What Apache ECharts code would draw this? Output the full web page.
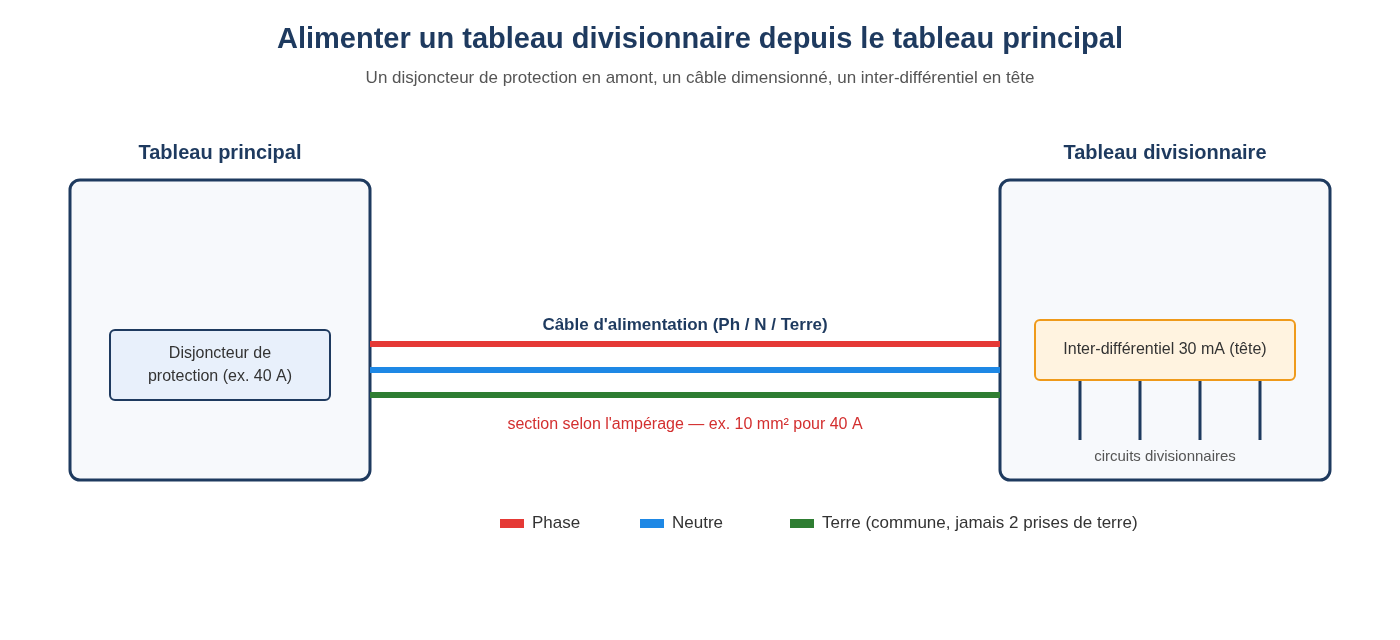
<!DOCTYPE html>
<html><head><meta charset="utf-8">
<script src="https://cdn.jsdelivr.net/npm/echarts@6/dist/echarts.min.js"></script>
<style>html,body{margin:0;background:#fff}#c{width:1400px;height:640px}</style>
</head><body><div id="c"></div>
<script>
const titleText = "Alimenter un tableau divisionnaire depuis le tableau principal";
const subtitleText = "Un disjoncteur de protection en amont, un câble dimensionné, un inter-différentiel en tête";
// panels: [x1,y1,x2,y2,label]
const panels = [[70,180,370,480,"Tableau principal"],[1000,180,1330,480,"Tableau divisionnaire"]];
const devices = [[110,330,330,400,"Disjoncteur de\nprotection (ex. 40 A)","#e8f0fb","#1e3a5f"],[1035,320,1295,380,"Inter-différentiel 30 mA (tête)","#fff3e0","#ef9a1a"]];
const wires = [[370,344,1000,"#e53935"],[370,370,1000,"#1e88e5"],[370,395,1000,"#2e7d32"]];
const circuits = [1080,1140,1200,1260];
const legendItems = [[500,"Phase","#e53935"],[640,"Neutre","#1e88e5"],[790,"Terre (commune, jamais 2 prises de terre)","#2e7d32"]];
const navy = "#1e3a5f";
const chart = echarts.init(document.getElementById('c'));
function R(api,x,y){return api.coord([x,y]);}
chart.setOption({
  animation:false,
  title:{text:titleText,subtext:subtitleText,left:'center',top:20,itemGap:16,
    textStyle:{fontFamily:'Liberation Sans',fontSize:29,fontWeight:'bold',color:navy},
    subtextStyle:{fontFamily:'Liberation Sans',fontSize:17,color:'#555'}},
  grid:{left:0,right:0,top:0,bottom:0},
  xAxis:{type:'value',min:0,max:1400,show:false},
  yAxis:{type:'value',min:0,max:640,inverse:true,show:false},
  series:[
    {type:'custom',data:panels,renderItem:(p,api)=>{const d=panels[p.dataIndex];const a=R(api,d[0],d[1]),b=R(api,d[2],d[3]);
      return {type:'group',children:[
        {type:'rect',shape:{x:a[0],y:a[1],width:b[0]-a[0],height:b[1]-a[1],r:10},style:{fill:'#f7f9fc',stroke:navy,lineWidth:3}},
        {type:'text',style:{x:(a[0]+b[0])/2,y:a[1]-27,text:d[4],align:'center',verticalAlign:'middle',font:'bold 20px Liberation Sans',fill:navy}}]};}},
    {type:'custom',data:wires,renderItem:(p,api)=>{const d=wires[p.dataIndex];const a=R(api,d[0],d[1]),b=R(api,d[2],d[1]);
      return {type:'line',shape:{x1:a[0],y1:a[1],x2:b[0],y2:b[1]},style:{stroke:d[3],lineWidth:6}};}},
    {type:'custom',data:circuits,renderItem:(p,api)=>{const x=circuits[p.dataIndex];const a=R(api,x,380),b=R(api,x,440);
      return {type:'line',shape:{x1:a[0],y1:a[1],x2:b[0],y2:b[1]},style:{stroke:navy,lineWidth:3}};}},
    {type:'custom',data:devices,renderItem:(p,api)=>{const d=devices[p.dataIndex];const a=R(api,d[0],d[1]),b=R(api,d[2],d[3]);
      return {type:'group',children:[
        {type:'rect',shape:{x:a[0],y:a[1],width:b[0]-a[0],height:b[1]-a[1],r:5},style:{fill:d[5],stroke:d[6],lineWidth:2}},
        {type:'text',style:{x:(a[0]+b[0])/2,y:(a[1]+b[1])/2,text:d[4],align:'center',verticalAlign:'middle',font:'16px Liberation Sans',fill:'#333',lineHeight:23}}]};}},
    {type:'custom',data:legendItems,renderItem:(p,api)=>{const d=legendItems[p.dataIndex];const a=R(api,d[0],519);
      return {type:'group',children:[
        {type:'rect',shape:{x:a[0],y:a[1],width:24,height:9},style:{fill:d[2]}},
        {type:'text',style:{x:a[0]+32,y:a[1]+4.5,text:d[1],verticalAlign:'middle',font:'17px Liberation Sans',fill:'#333'}}]};}},
    {type:'custom',data:[0],renderItem:(p,api)=>{const c1=R(api,685,325),c2=R(api,685,425),c3=R(api,1165,457);
      return {type:'group',children:[
        {type:'text',style:{x:c1[0],y:c1[1],text:"Câble d'alimentation (Ph / N / Terre)",align:'center',verticalAlign:'middle',font:'bold 17px Liberation Sans',fill:navy}},
        {type:'text',style:{x:c2[0],y:c2[1],text:"section selon l'ampérage — ex. 10 mm² pour 40 A",align:'center',verticalAlign:'middle',font:'16px Liberation Sans',fill:'#d32f2f'}},
        {type:'text',style:{x:c3[0],y:c3[1],text:"circuits divisionnaires",align:'center',verticalAlign:'middle',font:'15px Liberation Sans',fill:'#555'}}]};}}
  ]
});
</script></body></html>
